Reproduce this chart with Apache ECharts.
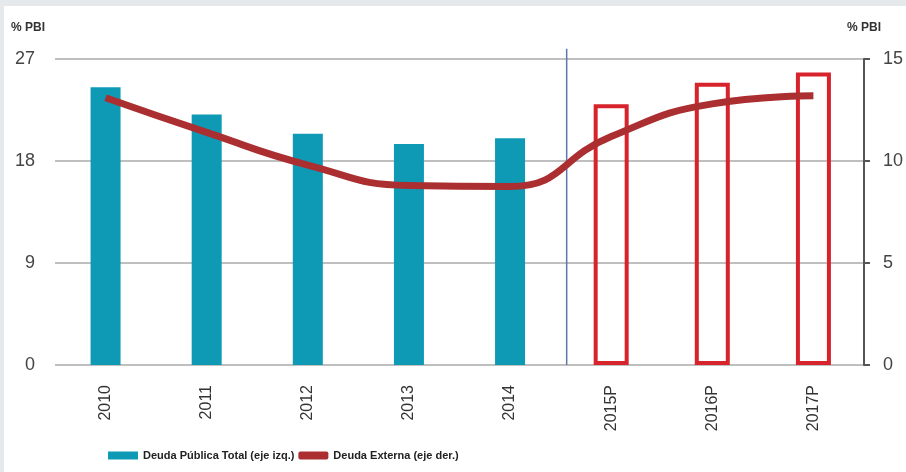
<!DOCTYPE html>
<html>
<head>
<meta charset="utf-8">
<script src="https://cdn.jsdelivr.net/npm/echarts@6/dist/echarts.min.js"></script>
<style>
html,body{margin:0;padding:0;background:#e5e9ec;width:906px;height:472px;overflow:hidden;}
#c{position:absolute;left:4px;top:6px;width:902px;height:466px;background:#fff;}
</style>
</head>
<body>
<div id="c"></div>
<script>
var categories = ['2010','2011','2012','2013','2014','2015P','2016P','2017P'];
var deudaPublicaHist = [24.5, 22.1, 20.4, 19.5, 20.0, null, null, null];
var deudaPublicaProy = [null, null, null, null, null, 23.0, 24.9, 25.8];
var deudaExterna = [13.1, 11.4, 9.8, 8.8, 8.75, 11.2, 12.8, 13.2];
var leftTicks = [0, 9, 18, 27];
var rightTicks = [0, 5, 10, 15];
var separatorPos = 5.06;
var separatorTop = 27.9;

var chart = echarts.init(document.getElementById('c'), null, {renderer:'canvas'});
var font = '"Liberation Sans Narrow","Liberation Sans",Arial,sans-serif';
chart.setOption({
  animation:false,
  textStyle:{fontFamily:font},
  grid:{left:51, right:40, top:53, bottom:107, containLabel:false},
  legend:{
    left:99, bottom:6, itemGap:4, itemWidth:30, itemHeight:8,
    textStyle:{fontFamily:font, fontSize:11, fontWeight:'bold', color:'#222'},
    data:[
      {name:'Deuda Pública Total (eje izq.)', icon:'rect', itemStyle:{color:'#0e9ab5'}},
      {name:'Deuda Externa (eje der.)', icon:'roundRect', itemStyle:{color:'#ab2f31'}}
    ]
  },
  xAxis:[
    {type:'category', data:categories,
     axisLine:{show:false}, axisTick:{show:false},
     axisLabel:{rotate:90, color:'#333', fontSize:16, margin:20, fontFamily:font}},
    {type:'value', min:0, max:8, show:false},
    {type:'category', data:categories, show:false}
  ],
  yAxis:[
    {type:'value', min:0, max:27, interval:9, name:'% PBI',
     nameTextStyle:{align:'right', padding:[0,10,0,0], fontSize:12, fontWeight:'bold', color:'#333', fontFamily:font},
     nameGap:25,
     axisLine:{show:false}, axisTick:{show:false},
     axisLabel:{color:'#444', fontSize:18, margin:20, fontFamily:font},
     splitLine:{lineStyle:{color:'#aaa', width:1.5}}},
    {type:'value', min:0, max:15, interval:5, name:'% PBI', position:'right',
     nameTextStyle:{align:'center', fontSize:12, fontWeight:'bold', color:'#333', fontFamily:font},
     nameGap:25,
     axisLine:{show:true, lineStyle:{color:'#555', width:2}},
     axisTick:{show:true, inside:false, length:6, lineStyle:{color:'#555', width:2}},
     axisLabel:{color:'#444', fontSize:18, margin:19, fontFamily:font},
     splitLine:{show:false}}
  ],
  series:[
    {name:'Deuda Pública Total (eje izq.)', type:'bar', data:deudaPublicaHist, barWidth:30,
     itemStyle:{color:'#0e9ab5'}},
    {name:'Deuda Pública Total proy', type:'bar', xAxisIndex:2, data:deudaPublicaProy, barWidth:35,
     itemStyle:{color:'rgba(255,255,255,0)', borderColor:'#d7232b', borderWidth:4}},
    {name:'Deuda Externa (eje der.)', type:'line', yAxisIndex:1, data:deudaExterna, smooth:0.5,
     symbol:'none', lineStyle:{color:'#ab2f31', width:7}, z:5},
    {name:'sep', type:'line', xAxisIndex:1, yAxisIndex:0, silent:true, clip:false,
     data:[[separatorPos,0],[separatorPos,separatorTop]], symbol:'none',
     lineStyle:{color:'#5a78a8', width:1.5}, z:1}
  ]
});
</script>
</body>
</html>
